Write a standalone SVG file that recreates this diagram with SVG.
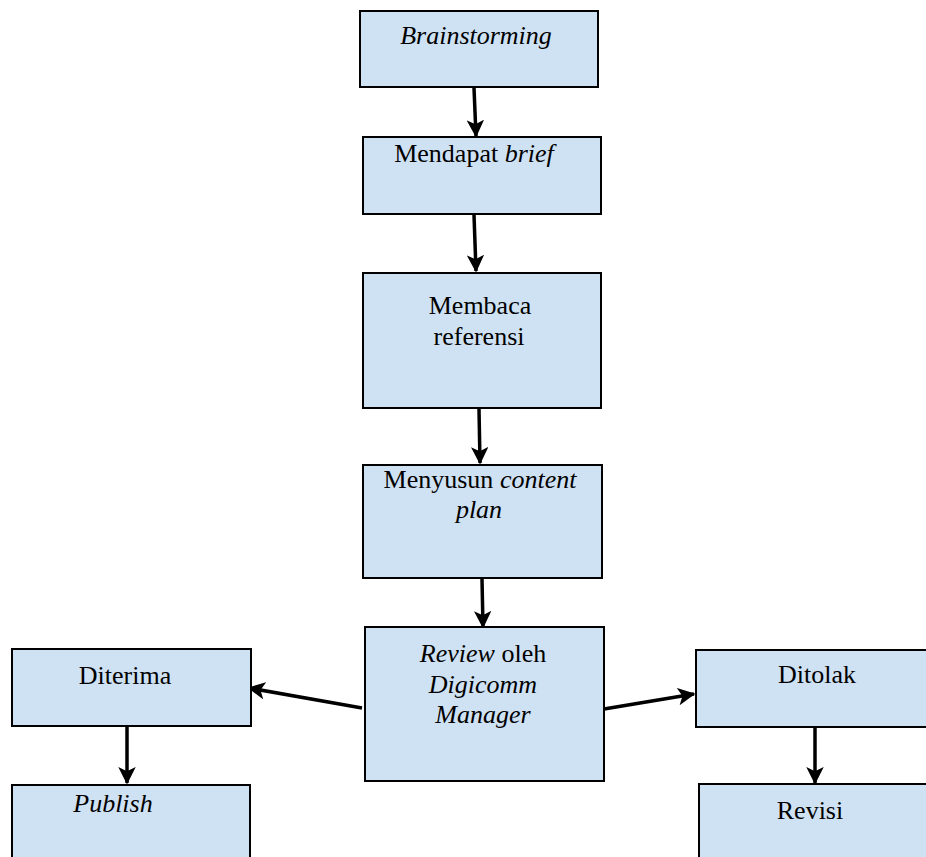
<svg xmlns="http://www.w3.org/2000/svg" width="926" height="857" viewBox="0 0 926 857">
<defs>
<marker id="ah" viewBox="0 0 12 12" refX="11" refY="6" markerWidth="5" markerHeight="5" orient="auto" markerUnits="strokeWidth">
<path d="M0,0 L12,6 L0,12 L3,6 z" fill="#000"/>
</marker>
</defs>
<style>
.box{fill:#cfe2f3;stroke:#000;stroke-width:2}
.t{font-family:"Liberation Serif","Times New Roman",serif;font-size:26px;fill:#000;text-anchor:middle}
.i{font-style:italic}
.c{stroke:#000;stroke-width:3.5;fill:none;marker-end:url(#ah)}
</style>
<rect width="926" height="857" fill="#fff"/>
<g id="connectors">
<line class="c" x1="474" y1="88" x2="476" y2="136"/>
<line class="c" x1="474" y1="215" x2="476" y2="271"/>
<line class="c" x1="479" y1="409" x2="480" y2="463"/>
<line class="c" x1="482" y1="579" x2="483" y2="627"/>
<line class="c" x1="362" y1="708" x2="249" y2="688"/>
<line class="c" x1="604" y1="709" x2="694" y2="694"/>
<line class="c" x1="127" y1="727" x2="127" y2="783"/>
<line class="c" x1="815" y1="728" x2="815" y2="783"/>
</g>
<g id="brainstorming">
<rect class="box" x="360" y="11" width="238" height="76"/>
<text class="t i" x="476" y="44">Brainstorming</text>
</g>
<g id="mendapat-brief">
<rect class="box" x="363" y="137" width="238" height="77"/>
<text class="t" x="474" y="162">Mendapat <tspan class="i">brief</tspan></text>
</g>
<g id="membaca-referensi">
<rect class="box" x="363" y="273" width="238" height="135"/>
<text class="t" x="480" y="314">Membaca</text>
<text class="t" x="479" y="345">referensi</text>
</g>
<g id="menyusun-content-plan">
<rect class="box" x="363" y="465" width="239" height="113"/>
<text class="t" x="480" y="488">Menyusun <tspan class="i">content</tspan></text>
<text class="t i" x="479" y="518">plan</text>
</g>
<g id="review">
<rect class="box" x="365" y="627" width="239" height="154"/>
<text class="t" x="483" y="662"><tspan class="i">Review</tspan> oleh</text>
<text class="t i" x="483" y="693">Digicomm</text>
<text class="t i" x="483" y="723">Manager</text>
</g>
<g id="diterima">
<rect class="box" x="12" y="649" width="239" height="77"/>
<text class="t" x="125" y="684">Diterima</text>
</g>
<g id="publish">
<rect class="box" x="12" y="785" width="238" height="90"/>
<text class="t i" x="113" y="812">Publish</text>
</g>
<g id="ditolak">
<rect class="box" x="696" y="650" width="240" height="77"/>
<text class="t" x="817" y="683">Ditolak</text>
</g>
<g id="revisi">
<rect class="box" x="699" y="784" width="240" height="90"/>
<text class="t" x="810" y="819">Revisi</text>
</g>
</svg>
